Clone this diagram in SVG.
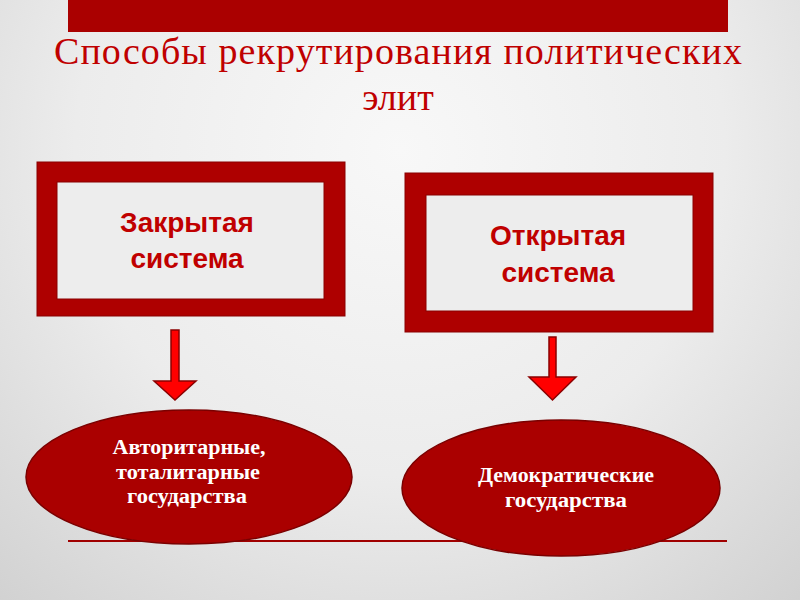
<svg xmlns="http://www.w3.org/2000/svg" width="800" height="600" viewBox="0 0 800 600">
<defs>
<radialGradient id="bg" cx="400" cy="150" r="650" gradientUnits="userSpaceOnUse">
<stop offset="0" stop-color="#f8f8f8"/>
<stop offset="0.5" stop-color="#ececec"/>
<stop offset="1" stop-color="#cdcdcd"/>
</radialGradient>
<style>
.title{font-family:"Liberation Serif","Times New Roman",serif;font-size:38px;fill:#C00000;}
.frame{fill:#AE0000;stroke:#8A0000;stroke-width:1;}
.inner{fill:#EDEDED;stroke:#8A0000;stroke-width:1;}
.btxt{font-family:"Liberation Sans",Arial,sans-serif;font-weight:bold;font-size:28px;fill:#C00000;text-anchor:middle;}
.ell{fill:#AA0000;stroke:#7A0000;stroke-width:1.5;}
.etxt{font-family:"Liberation Serif","Times New Roman",serif;font-weight:bold;font-size:20px;fill:#FFFFFF;text-anchor:middle;}
.arrow{fill:#FF0000;stroke:#8B0000;stroke-width:1.5;stroke-linejoin:miter;}
</style>
</defs>
<rect x="0" y="0" width="800" height="600" fill="url(#bg)"/>
<rect x="68" y="0" width="660" height="32" fill="#AA0000"/>
<g id="title">
<text class="title" x="54" y="64" textLength="688" lengthAdjust="spacing">Способы рекрутирования политических</text>
<text class="title" x="398" y="110" text-anchor="middle">элит</text>
</g>
<line x1="68" y1="541" x2="727" y2="541" stroke="#A00000" stroke-width="2"/>
<g id="closed">
<rect class="frame" x="37" y="162" width="308" height="154"/>
<rect class="inner" x="57" y="182" width="267" height="117"/>
<text class="btxt" x="187" y="232">Закрытая</text>
<text class="btxt" x="187" y="268">система</text>
</g>
<g id="open">
<rect class="frame" x="405" y="173" width="308" height="159"/>
<rect class="inner" x="426" y="195" width="267" height="116"/>
<text class="btxt" x="558" y="245">Открытая</text>
<text class="btxt" x="558" y="282">система</text>
</g>
<g id="connectors">
<polygon class="arrow" points="171,330 179,330 179,381 196,381 175,400 154,381 171,381"/>
<polygon class="arrow" points="549,337 556,337 556,377 576,377 552.5,400 529,377 549,377"/>
</g>
<g id="authoritarian">
<ellipse class="ell" cx="189" cy="477" rx="163" ry="67"/>
<text class="etxt" x="189" y="454" textLength="153" lengthAdjust="spacingAndGlyphs">Авторитарные,</text>
<text class="etxt" x="188" y="479" textLength="144" lengthAdjust="spacingAndGlyphs">тоталитарные</text>
<text class="etxt" x="187" y="503" textLength="120" lengthAdjust="spacingAndGlyphs">государства</text>
</g>
<g id="democratic">
<ellipse class="ell" cx="561" cy="488" rx="159" ry="68"/>
<text class="etxt" x="566" y="482" textLength="176" lengthAdjust="spacingAndGlyphs">Демократические</text>
<text class="etxt" x="566" y="507" textLength="122" lengthAdjust="spacingAndGlyphs">государства</text>
</g>
</svg>
